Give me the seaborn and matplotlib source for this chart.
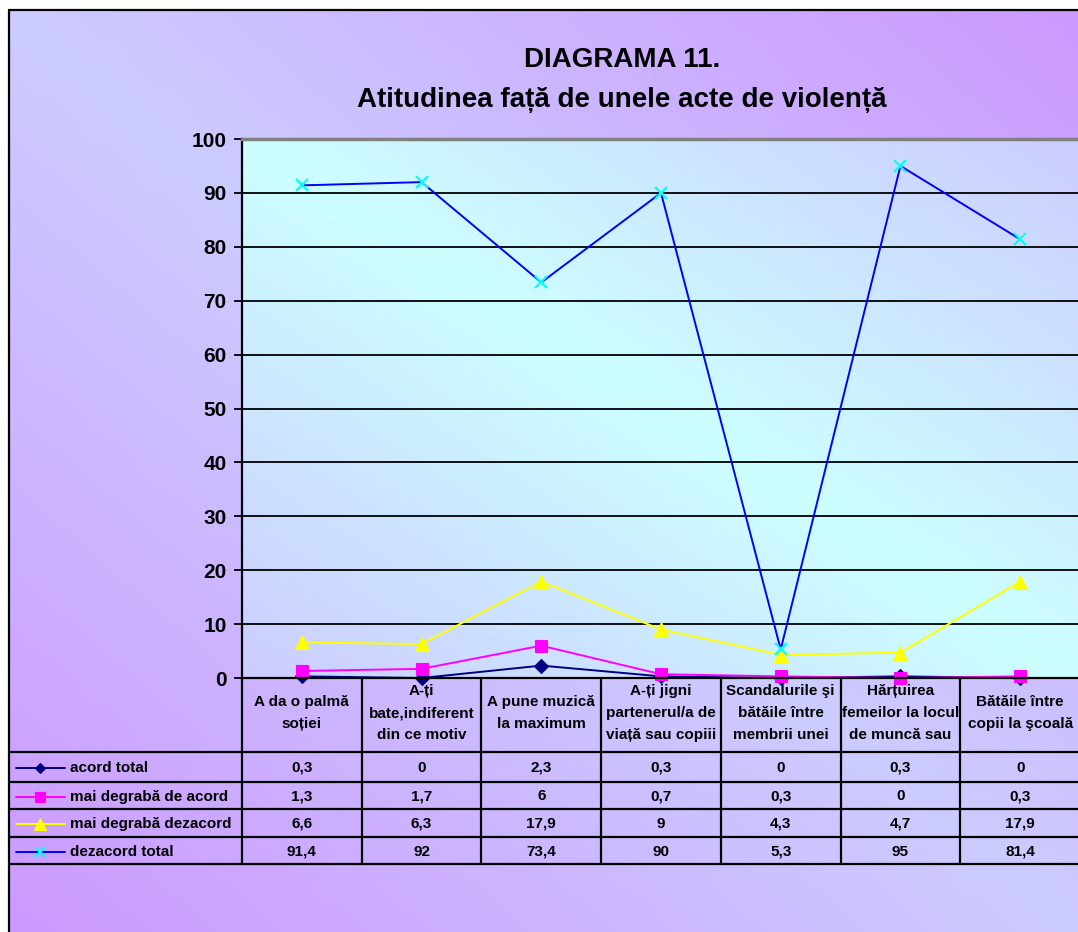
import numpy as np
import matplotlib
matplotlib.use("Agg")
import matplotlib.pyplot as plt
import matplotlib.colors as mcolors
import matplotlib.transforms as mtransforms
import seaborn as sns

# data
categories = [
    "A da o palmă\nsoției",
    "A-ți\nbate,indiferent\ndin ce motiv",
    "A pune muzică\nla maximum",
    "A-ți jigni\npartenerul/a de\nviață sau copiii",
    "Scandalurile şi\nbătăile între\nmembrii unei",
    "Hărțuirea\nfemeilor la locul\nde muncă sau",
    "Bătăile între\ncopii la şcoală",
]
series_names = ["acord total", "mai degrabă de acord", "mai degrabă dezacord", "dezacord total"]
acord_total = [0.3, 0, 2.3, 0.3, 0, 0.3, 0]
mai_degraba_acord = [1.3, 1.7, 6, 0.7, 0.3, 0, 0.3]
mai_degraba_dezacord = [6.6, 6.3, 17.9, 9, 4.3, 4.7, 17.9]
dezacord_total = [91.4, 92, 73.4, 90, 5.3, 95, 81.4]
y_ticks = list(range(0, 101, 10))
title_lines = ["DIAGRAMA 11.", "Atitudinea față de unele acte de violență"]

series_values = [acord_total, mai_degraba_acord, mai_degraba_dezacord, dezacord_total]
styles = [
    dict(color="#000080", marker="D", markersize=7, markerfacecolor="#000080",
         markeredgecolor="#000080", markeredgewidth=0.8),
    dict(color="#FF00FF", marker="s", markersize=9, markerfacecolor="#FF00FF",
         markeredgecolor="#FF00FF", markeredgewidth=0.8),
    dict(color="#FFFF00", marker="^", markersize=10, markerfacecolor="#FFFF00",
         markeredgecolor="#FFFF00", markeredgewidth=0.8),
    dict(color="#0000FF", marker="x", markersize=9, markerfacecolor="#00FFFF",
         markeredgecolor="#00FFFF", markeredgewidth=1.6),
]

sns.set_style("white")
plt.rcParams["font.family"] = ["Liberation Sans", "DejaVu Sans"]
plt.rcParams["font.weight"] = "bold"
plt.rcParams["text.color"] = "black"
plt.rcParams["ytick.color"] = "black"
plt.rcParams["xtick.color"] = "black"
plt.rcParams["axes.labelcolor"] = "black"

W, H = 1078, 932
fig = plt.figure(figsize=(W / 100, H / 100), dpi=100, facecolor="white")


def diag_gradient(c_mid, c_corner, nx=400, ny=400):
    u = np.linspace(0, 1, nx)[None, :]
    w = np.linspace(0, 1, ny)[:, None]
    t = np.abs(u - w)[..., None]
    a = np.array(mcolors.to_rgb(c_mid))
    b = np.array(mcolors.to_rgb(c_corner))
    return a + (b - a) * t


# background in pixel coordinates
bg = fig.add_axes([0, 0, 1, 1], zorder=-10)
bg.imshow(diag_gradient("#CCCCFF", "#CC99FF"), extent=(9, W + 2, H + 2, 10),
          origin="upper", aspect="auto", interpolation="bilinear")
# plot area gradient
pl, pr, pt, pb = 242, 1080, 139, 678
bg.imshow(diag_gradient("#CCFFFF", "#CCCCFF"), extent=(pl, pr, pb, pt),
          origin="upper", aspect="auto", interpolation="bilinear")
bg.plot([9, 9], [10, H + 2], color="black", lw=1.6)
bg.plot([9, W + 2], [10, 10], color="black", lw=1.6)
bg.set_xlim(0, W)
bg.set_ylim(H, 0)
bg.axis("off")

# main plot
ax = fig.add_axes([pl / W, (H - pb) / H, (pr - pl) / W, (pb - pt) / H])
ax.patch.set_alpha(0)
x_idx = np.arange(len(categories))
for name, vals, st in zip(series_names, series_values, styles):
    sns.lineplot(x=x_idx, y=vals, ax=ax, linewidth=1.4, clip_on=False,
                 legend=False, **st)

ax.set_xlim(-0.5, len(categories) - 0.5)
ax.set_ylim(0, 100)
ax.set_yticks(y_ticks)
ax.set_yticklabels([str(v) for v in y_ticks], fontsize=15, fontweight="bold", color="black")
ax.set_xticks([])
ax.tick_params(axis="y", direction="out", length=6, width=1.3, color="black", pad=5, left=True)
ax.yaxis.grid(True, color="black", lw=1.3)
ax.set_xlabel("")
ax.set_ylabel("")
for side in ["left", "bottom"]:
    ax.spines[side].set_color("black")
    ax.spines[side].set_linewidth(1.6)
ax.spines["top"].set_color("#808080")
ax.spines["top"].set_linewidth(2.5)
ax.spines["right"].set_visible(False)

# titles
fig.text(622 / W, 1 - 60 / H, title_lines[0], ha="center", va="center",
         fontsize=20, fontweight="bold", color="black")
fig.text(622 / W, 1 - 100 / H, title_lines[1], ha="center", va="center",
         fontsize=20, fontweight="bold", color="black")

# data table under the plot
trans = mtransforms.blended_transform_factory(ax.transData, bg.transData)
row_lines = [752, 782, 809, 837, 864]
for y in row_lines:
    bg.plot([9, W + 2], [y, y], color="black", lw=1.6, clip_on=False)
for k in range(len(categories) + 1):
    bg.plot([k - 0.5, k - 0.5], [pb, row_lines[-1]], color="black", lw=1.6,
            transform=trans, clip_on=False)

for i, cat in enumerate(categories):
    bg.text(i, 713, cat, transform=trans, ha="center", va="center",
            fontsize=11, fontweight="bold", linespacing=1.7, multialignment="center")


def fmt(v):
    return f"{v:g}".replace(".", ",")


for r, (name, vals, st) in enumerate(zip(series_names, series_values, styles)):
    yc = (row_lines[r] + row_lines[r + 1]) / 2 + 1
    bg.plot([16, 65], [yc, yc], color=st["color"], lw=1.4)
    bg.plot([40], [yc], linestyle="none", marker=st["marker"],
            markersize=st["markersize"] * 0.8, markerfacecolor=st["markerfacecolor"],
            markeredgecolor=st["markeredgecolor"], markeredgewidth=st["markeredgewidth"])
    bg.text(70, yc, name, ha="left", va="center", fontsize=11, fontweight="bold")
    for i, v in enumerate(vals):
        bg.text(i, yc, fmt(v), transform=trans, ha="center", va="center",
                fontsize=11, fontweight="bold")

fig.savefig("out.png", dpi=100)
